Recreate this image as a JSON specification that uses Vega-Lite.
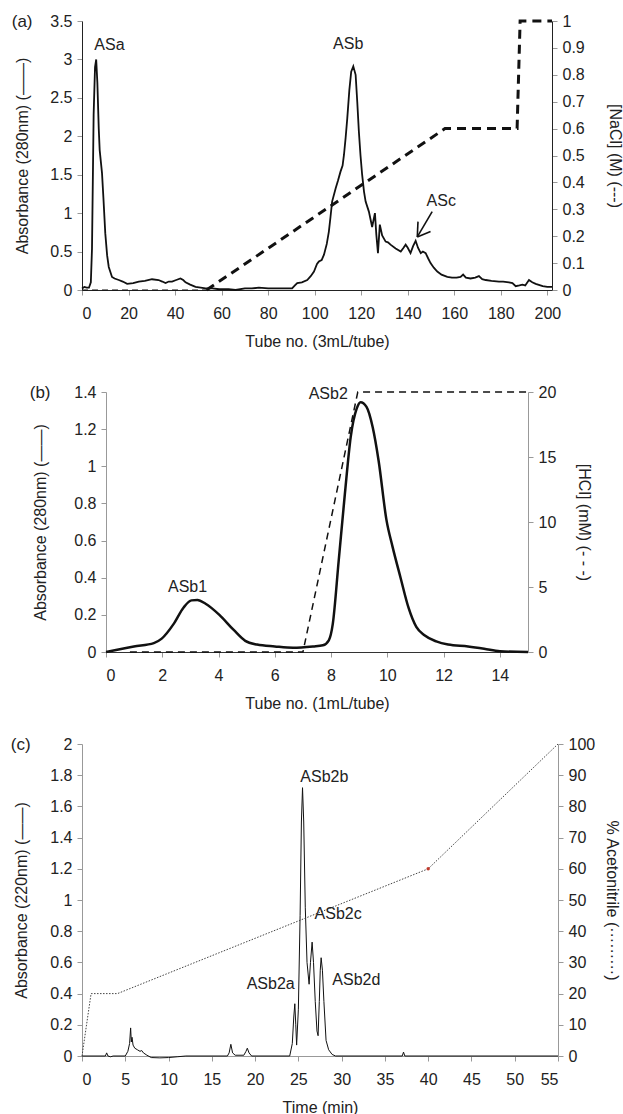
{
  "$schema": "https://vega.github.io/schema/vega-lite/v6.json",
  "padding": {"left": 10, "top": 13, "right": 0, "bottom": 0},
  "config": {
    "font": "Liberation Sans",
    "view": {"stroke": null},
    "axis": {"grid": false, "labelFont": "Liberation Sans", "labelFontSize": 16, "labelColor": "#222", "titleFont": "Liberation Sans", "titleFontSize": 16, "titleFontWeight": "normal", "titleColor": "#222", "tickColor": "#999", "domainColor": "#999", "tickSize": 5, "labelPadding": 5},
    "axisX": {"labelPadding": 10, "titlePadding": 12},
    "title": {"font": "Liberation Sans", "fontSize": 17, "fontWeight": "normal", "color": "#222", "anchor": "start", "frame": "bounds", "offset": 0},
    "text": {"font": "Liberation Sans", "fontSize": 16, "color": "#222"}
  },
  "datasets": {
    "a_abs": [
      {"x":0,"y":0.02},{"x":1,"y":0.04},{"x":2,"y":0.03},{"x":3,"y":0.03},{"x":3.8,"y":0.1},{"x":4.3,"y":0.54},{"x":5,"y":2.28},{"x":5.6,"y":2.9},{"x":6.1,"y":3.0},{"x":6.6,"y":2.7},{"x":7.2,"y":2.1},{"x":7.6,"y":1.82},{"x":8.6,"y":1.52},{"x":9.2,"y":1.2},{"x":10,"y":0.74},{"x":10.8,"y":0.45},{"x":11.5,"y":0.3},{"x":12.9,"y":0.17},{"x":14,"y":0.15},{"x":15.8,"y":0.13},{"x":17.5,"y":0.11},{"x":19.4,"y":0.08},{"x":22,"y":0.09},{"x":24.4,"y":0.11},{"x":27,"y":0.12},{"x":30.1,"y":0.14},{"x":32.9,"y":0.13},{"x":34.5,"y":0.11},{"x":35.9,"y":0.09},{"x":37.3,"y":0.11},{"x":38.7,"y":0.11},{"x":40.5,"y":0.13},{"x":42.3,"y":0.15},{"x":43.5,"y":0.13},{"x":44.5,"y":0.1},{"x":46.5,"y":0.07},{"x":48.8,"y":0.04},{"x":51,"y":0.03},{"x":53.1,"y":0.02},{"x":56,"y":0.02},{"x":59,"y":0.01},{"x":63,"y":0.01},{"x":66,"y":0.0},{"x":70,"y":0.02},{"x":73,"y":0.02},{"x":76,"y":0.03},{"x":80,"y":0.02},{"x":83,"y":0.02},{"x":86,"y":0.02},{"x":90.3,"y":0.02},{"x":91.5,"y":0.06},{"x":92.5,"y":0.09},{"x":94.5,"y":0.1},{"x":96.8,"y":0.13},{"x":98.3,"y":0.18},{"x":99.7,"y":0.24},{"x":101,"y":0.34},{"x":101.8,"y":0.37},{"x":103,"y":0.39},{"x":104,"y":0.46},{"x":105.2,"y":0.6},{"x":106.1,"y":0.76},{"x":106.8,"y":0.95},{"x":107.5,"y":1.15},{"x":109,"y":1.32},{"x":110,"y":1.42},{"x":111.1,"y":1.54},{"x":112,"y":1.62},{"x":112.6,"y":1.76},{"x":113.3,"y":1.98},{"x":114,"y":2.23},{"x":114.9,"y":2.6},{"x":115.7,"y":2.84},{"x":116.6,"y":2.91},{"x":117.6,"y":2.8},{"x":118.3,"y":2.45},{"x":119,"y":2.06},{"x":119.7,"y":1.75},{"x":120.4,"y":1.5},{"x":121.2,"y":1.28},{"x":121.9,"y":1.15},{"x":123.3,"y":1.02},{"x":124.7,"y":0.82},{"x":125.9,"y":1.0},{"x":126.5,"y":0.72},{"x":127.2,"y":0.48},{"x":128,"y":0.85},{"x":129,"y":0.71},{"x":130.5,"y":0.63},{"x":131.5,"y":0.62},{"x":132.6,"y":0.59},{"x":134.8,"y":0.54},{"x":137,"y":0.5},{"x":138.2,"y":0.55},{"x":139.1,"y":0.59},{"x":140,"y":0.55},{"x":141.2,"y":0.48},{"x":142.3,"y":0.57},{"x":143.4,"y":0.64},{"x":144.4,"y":0.55},{"x":145.6,"y":0.48},{"x":146.5,"y":0.5},{"x":147.7,"y":0.48},{"x":148.8,"y":0.41},{"x":149.8,"y":0.35},{"x":151.2,"y":0.29},{"x":152.7,"y":0.24},{"x":154.5,"y":0.2},{"x":157,"y":0.17},{"x":159,"y":0.16},{"x":161,"y":0.16},{"x":162.7,"y":0.17},{"x":163.8,"y":0.2},{"x":165,"y":0.16},{"x":167,"y":0.15},{"x":169,"y":0.16},{"x":170.6,"y":0.18},{"x":172,"y":0.14},{"x":173.5,"y":0.13},{"x":176,"y":0.12},{"x":179.2,"y":0.11},{"x":181,"y":0.11},{"x":183.5,"y":0.1},{"x":185,"y":0.09},{"x":186.4,"y":0.05},{"x":188,"y":0.06},{"x":189.3,"y":0.07},{"x":190.5,"y":0.06},{"x":192.1,"y":0.13},{"x":193.5,"y":0.1},{"x":195,"y":0.08},{"x":197,"y":0.06},{"x":198,"y":0.05},{"x":200,"y":0.04},{"x":202,"y":0.04}
    ],
    "a_nacl": [
      {"x":0,"y":0,"s":"base"},{"x":53.5,"y":0,"s":"base"},
      {"x":53.5,"y":0,"s":"grad"},{"x":156,"y":0.6,"s":"grad"},{"x":187,"y":0.6,"s":"grad"},{"x":188.3,"y":1,"s":"grad"},{"x":202,"y":1,"s":"grad"}
    ],
    "a_lab": [
      {"x":11.8,"y":3.19,"t":"ASa"},{"x":114.4,"y":3.2,"t":"ASb"},{"x":154.4,"y":1.16,"t":"ASc"}
    ],
    "a_arrow": [
      {"x":150.5,"y":1.02,"x2":144.1,"y2":0.69},{"x":144.1,"y":0.69,"x2":144.4,"y2":0.89},{"x":144.1,"y":0.69,"x2":149.8,"y2":0.76}
    ],
    "b_abs": [
      {"x":0,"y":0},{"x":0.99,"y":0.03},{"x":1.7,"y":0.048},{"x":1.98,"y":0.072},{"x":2.4,"y":0.15},{"x":2.76,"y":0.24},{"x":3.04,"y":0.278},{"x":3.25,"y":0.28},{"x":3.54,"y":0.26},{"x":4.03,"y":0.2},{"x":4.53,"y":0.12},{"x":4.95,"y":0.06},{"x":5.37,"y":0.04},{"x":6.0,"y":0.03},{"x":6.65,"y":0.023},{"x":7.36,"y":0.03},{"x":7.71,"y":0.036},{"x":7.92,"y":0.063},{"x":8.06,"y":0.15},{"x":8.27,"y":0.49},{"x":8.49,"y":0.85},{"x":8.7,"y":1.16},{"x":8.91,"y":1.31},{"x":9.05,"y":1.345},{"x":9.26,"y":1.32},{"x":9.48,"y":1.21},{"x":9.69,"y":1.03},{"x":9.97,"y":0.71},{"x":10.18,"y":0.57},{"x":10.47,"y":0.4},{"x":10.75,"y":0.24},{"x":11.03,"y":0.135},{"x":11.32,"y":0.09},{"x":11.74,"y":0.057},{"x":12.16,"y":0.04},{"x":12.87,"y":0.03},{"x":13.44,"y":0.018},{"x":14.0,"y":0.004},{"x":15,"y":0}
    ],
    "b_hcl": [
      {"x":0.85,"y":0},{"x":7,"y":0},{"x":8.95,"y":20},{"x":15,"y":20}
    ],
    "b_lab": [
      {"x":2.9,"y":0.35,"t":"ASb1"},{"x":7.9,"y":1.39,"t":"ASb2"}
    ],
    "c_abs": [
      {"x":0,"y":0},{"x":2.7,"y":0},{"x":2.85,"y":0.02},{"x":3.0,"y":0},{"x":3.3,"y":-0.005},{"x":3.6,"y":0},{"x":5.0,"y":0},{"x":5.3,"y":0.03},{"x":5.5,"y":0.08},{"x":5.62,"y":0.18},{"x":5.7,"y":0.09},{"x":5.78,"y":0.12},{"x":5.9,"y":0.07},{"x":6.1,"y":0.05},{"x":6.4,"y":0.04},{"x":6.7,"y":0.03},{"x":6.9,"y":0.035},{"x":7.1,"y":0.02},{"x":7.5,"y":0.005},{"x":8,"y":-0.01},{"x":9,"y":-0.012},{"x":10,"y":-0.01},{"x":11,"y":-0.005},{"x":12,"y":0},{"x":16.8,"y":0},{"x":17.0,"y":0.02},{"x":17.2,"y":0.075},{"x":17.4,"y":0.02},{"x":17.7,"y":0.005},{"x":18.7,"y":0.005},{"x":18.95,"y":0.03},{"x":19.1,"y":0.05},{"x":19.3,"y":0.02},{"x":19.6,"y":0},{"x":24.0,"y":0},{"x":24.3,"y":0.08},{"x":24.47,"y":0.25},{"x":24.59,"y":0.335},{"x":24.7,"y":0.2},{"x":24.8,"y":0.07},{"x":25.0,"y":0.3},{"x":25.2,"y":0.9},{"x":25.35,"y":1.5},{"x":25.48,"y":1.72},{"x":25.62,"y":1.5},{"x":25.8,"y":0.95},{"x":26.0,"y":0.6},{"x":26.24,"y":0.46},{"x":26.4,"y":0.6},{"x":26.59,"y":0.73},{"x":26.75,"y":0.6},{"x":26.95,"y":0.35},{"x":27.15,"y":0.16},{"x":27.28,"y":0.13},{"x":27.42,"y":0.35},{"x":27.53,"y":0.55},{"x":27.63,"y":0.63},{"x":27.78,"y":0.55},{"x":27.95,"y":0.35},{"x":28.2,"y":0.1},{"x":28.5,"y":0.04},{"x":28.9,"y":0.01},{"x":29.3,"y":0},{"x":37.0,"y":0},{"x":37.15,"y":0.025},{"x":37.3,"y":0},{"x":55,"y":0}
    ],
    "c_acn": [
      {"x":0,"y":0},{"x":1.05,"y":20},{"x":4.1,"y":20},{"x":40,"y":60},{"x":55,"y":100}
    ],
    "c_dot": [{"x":40,"y":60}],
    "c_lab": [
      {"x":21.8,"y":0.46,"t":"ASb2a"},{"x":28.0,"y":1.79,"t":"ASb2b"},{"x":29.6,"y":0.91,"t":"ASb2c"},{"x":31.7,"y":0.49,"t":"ASb2d"}
    ]
  },
  "spacing": 25,
  "vconcat": [
    {
      "spacing": 35,
      "vconcat": [
        {
          "title": {"text": "(a)", "dx": -3, "dy": 22},
          "width": 470,
          "height": 269,
          "resolve": {"scale": {"y": "independent"}},
          "layer": [
            {
              "data": {"name": "a_abs"},
              "mark": {"type": "line", "color": "#111", "strokeWidth": 1.8},
              "encoding": {
                "x": {"field": "x", "type": "quantitative", "scale": {"domain": [0, 202], "nice": false}, "axis": {"values": [0,20,40,60,80,100,120,140,160,180,200], "title": "Tube no. (3mL/tube)", "domainColor": "#222"}},
                "y": {"field": "y", "type": "quantitative", "scale": {"domain": [0, 3.5], "nice": false}, "axis": {"values": [0,0.5,1,1.5,2,2.5,3,3.5], "format": "~g", "title": "Absorbance (280nm) (——)", "domainColor": "#222", "titlePadding": 19}}
              }
            },
            {
              "data": {"name": "a_nacl"},
              "transform": [{"filter": "datum.s === 'base'"}],
              "mark": {"type": "line", "color": "#111", "strokeWidth": 1.2, "strokeDash": [6, 4]},
              "encoding": {
                "x": {"field": "x", "type": "quantitative"},
                "y": {"field": "y", "type": "quantitative", "scale": {"domain": [0, 1], "nice": false}, "axis": null}
              }
            },
            {
              "data": {"name": "a_nacl"},
              "transform": [{"filter": "datum.s === 'grad'"}],
              "mark": {"type": "line", "color": "#111", "strokeWidth": 3, "strokeDash": [9, 6]},
              "encoding": {
                "x": {"field": "x", "type": "quantitative"},
                "y": {"field": "y", "type": "quantitative", "scale": {"domain": [0, 1], "nice": false}, "axis": {"orient": "right", "values": [0,0.1,0.2,0.3,0.4,0.5,0.6,0.7,0.8,0.9,1], "format": "~g", "title": "[NaCl] (M) (---)", "domainColor": "#222", "titlePadding": 22}}
              }
            },
            {
              "data": {"name": "a_lab"},
              "mark": {"type": "text", "align": "center", "baseline": "middle"},
              "encoding": {
                "x": {"field": "x", "type": "quantitative"},
                "y": {"field": "y", "type": "quantitative", "scale": {"domain": [0, 3.5], "nice": false}, "axis": null},
                "text": {"field": "t"}
              }
            },
            {
              "data": {"name": "a_arrow"},
              "mark": {"type": "rule", "color": "#111", "strokeWidth": 1.6},
              "encoding": {
                "x": {"field": "x", "type": "quantitative"},
                "x2": {"field": "x2"},
                "y": {"field": "y", "type": "quantitative", "scale": {"domain": [0, 3.5], "nice": false}, "axis": null},
                "y2": {"field": "y2"}
              }
            }
          ]
        },
        {
          "title": {"text": "(b)", "dx": -3, "dy": 22},
          "width": 446,
          "height": 260,
          "resolve": {"scale": {"y": "independent"}},
          "layer": [
            {
              "data": {"name": "b_abs"},
              "mark": {"type": "line", "color": "#111", "strokeWidth": 2.5, "interpolate": "monotone"},
              "encoding": {
                "x": {"field": "x", "type": "quantitative", "scale": {"domain": [0, 15], "nice": false, "range": [24, 446]}, "axis": {"values": [0,2,4,6,8,10,12,14], "title": "Tube no. (1mL/tube)", "domainColor": "#333"}},
                "y": {"field": "y", "type": "quantitative", "scale": {"domain": [0, 1.4], "nice": false}, "axis": {"values": [0,0.2,0.4,0.6,0.8,1,1.2,1.4], "format": "~g", "title": "Absorbance (280nm) (——)", "offset": -24, "titlePadding": 25}}
              }
            },
            {
              "data": {"name": "b_hcl"},
              "mark": {"type": "line", "color": "#111", "strokeWidth": 1.5, "strokeDash": [7, 5]},
              "encoding": {
                "x": {"field": "x", "type": "quantitative"},
                "y": {"field": "y", "type": "quantitative", "scale": {"domain": [0, 20], "nice": false}, "axis": {"orient": "right", "values": [0,5,10,15,20], "title": "[HCl] (mM) (- - -)", "titlePadding": 20}}
              }
            },
            {
              "data": {"name": "b_lab"},
              "mark": {"type": "text", "align": "center", "baseline": "middle"},
              "encoding": {
                "x": {"field": "x", "type": "quantitative"},
                "y": {"field": "y", "type": "quantitative", "scale": {"domain": [0, 1.4], "nice": false}, "axis": null},
                "text": {"field": "t"}
              }
            }
          ]
        }
      ]
    },
    {
      "title": {"text": "(c)", "dx": -3, "dy": 22},
      "width": 476,
      "height": 312,
      "resolve": {"scale": {"y": "independent"}},
      "layer": [
        {
          "data": {"name": "c_abs"},
          "mark": {"type": "line", "color": "#111", "strokeWidth": 1},
          "encoding": {
            "x": {"field": "x", "type": "quantitative", "scale": {"domain": [0, 55], "nice": false}, "axis": {"values": [0,5,10,15,20,25,30,35,40,45,50,55], "title": "Time (min)"}},
            "y": {"field": "y", "type": "quantitative", "scale": {"domain": [0, 2], "nice": false}, "axis": {"values": [0,0.2,0.4,0.6,0.8,1,1.2,1.4,1.6,1.8,2], "format": "~g", "title": "Absorbance  (220nm) (——)", "titlePadding": 20}}
          }
        },
        {
          "data": {"name": "c_acn"},
          "mark": {"type": "line", "color": "#444", "strokeWidth": 1, "strokeDash": [1.5, 1.5]},
          "encoding": {
            "x": {"field": "x", "type": "quantitative"},
            "y": {"field": "y", "type": "quantitative", "scale": {"domain": [0, 100], "nice": false}, "axis": {"orient": "right", "values": [0,10,20,30,40,50,60,70,80,90,100], "title": "% Acetonitrile (·········)", "titlePadding": 9}}
          }
        },
        {
          "data": {"name": "c_dot"},
          "mark": {"type": "point", "filled": true, "color": "#c0392b", "size": 12, "opacity": 1},
          "encoding": {
            "x": {"field": "x", "type": "quantitative"},
            "y": {"field": "y", "type": "quantitative", "scale": {"domain": [0, 100], "nice": false}, "axis": null}
          }
        },
        {
          "data": {"name": "c_lab"},
          "mark": {"type": "text", "align": "center", "baseline": "middle"},
          "encoding": {
            "x": {"field": "x", "type": "quantitative"},
            "y": {"field": "y", "type": "quantitative", "scale": {"domain": [0, 2], "nice": false}, "axis": null},
            "text": {"field": "t"}
          }
        }
      ]
    }
  ]
}
